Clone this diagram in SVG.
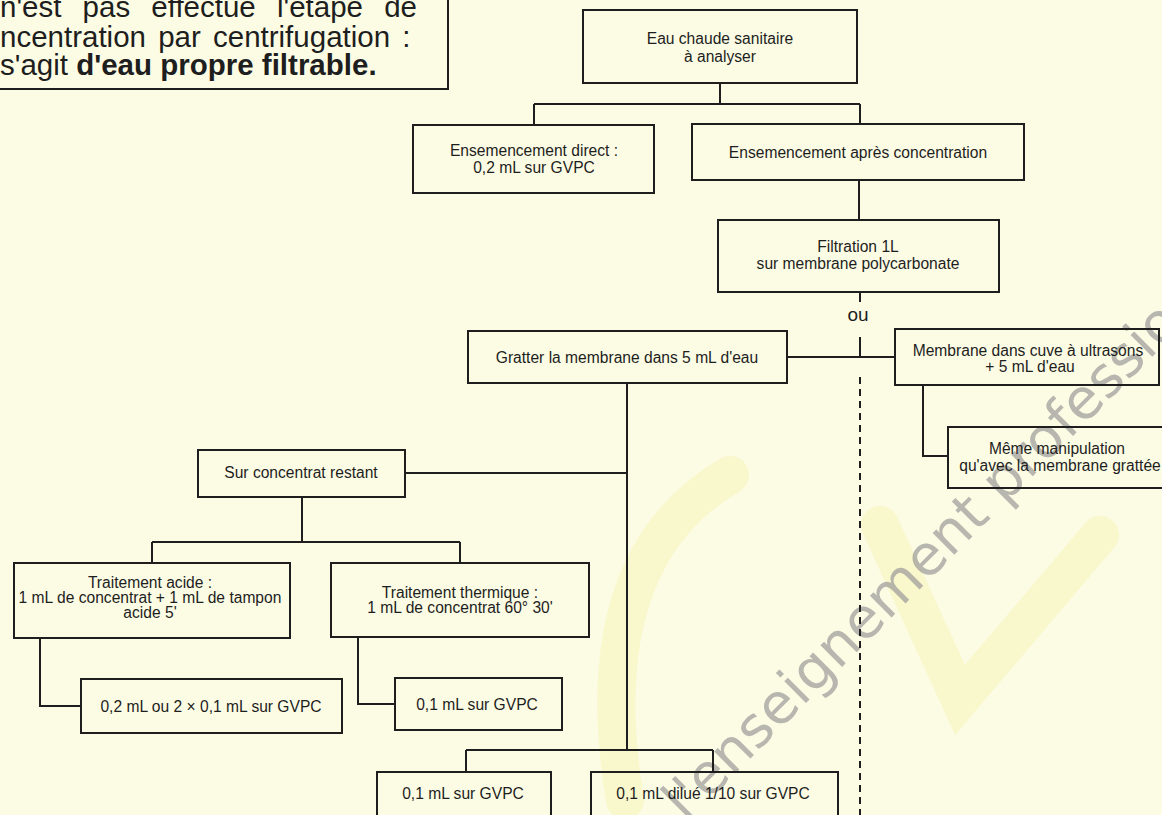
<svg xmlns="http://www.w3.org/2000/svg" width="1162" height="815" viewBox="0 0 1162 815">
<style>
.bg{fill:#fcfce4}
.box{fill:none;stroke:#1e1e1e;stroke-width:2}
.ln{fill:none;stroke:#1e1e1e;stroke-width:2}
.dash{fill:none;stroke:#1e1e1e;stroke-width:2;stroke-dasharray:7 5}
.t{font-family:"Liberation Sans",Arial,sans-serif;font-size:15.6px;fill:#1e1e1e;text-anchor:middle}
.big{font-family:"Liberation Sans",Arial,sans-serif;font-size:29.5px;fill:#1e1e1e}
.ou{font-family:"Liberation Sans",Arial,sans-serif;font-size:19px;fill:#1e1e1e;text-anchor:middle}
.wm{font-family:"DejaVu Sans",sans-serif;font-size:56px;fill:#9a9a9a;opacity:0.7}
.logo{fill:none;stroke:#f3eea0;stroke-width:38;stroke-linecap:round;opacity:0.35}
</style>
<rect class="bg" x="0" y="0" width="1162" height="815"/>
<g id="watermark">
<path class="logo" d="M 730 475 Q 585 560 625 800"/>
<path class="logo" d="M 880 525 L 960 700 L 1100 535"/>
<text class="wm" x="686" y="823" transform="rotate(-45 686 823)">l'enseignement professionnel</text>
</g>
<g id="note">
<rect class="box" x="-5" y="-5" width="453" height="94"/>
<text class="big" x="0" y="17" word-spacing="13">n'est pas effectué l'étape de</text>
<text class="big" x="0" y="47" word-spacing="4">ncentration par centrifugation :</text>
<text class="big" x="0" y="75">s'agit <tspan font-weight="bold">d'eau propre filtrable.</tspan></text>
</g>
<g id="connectors">
<path class="ln" d="M720 83 V104 M534 104 H860 M534 104 V125 M860 104 V124"/>
<path class="ln" d="M859 180 V220"/>
<path class="ln" d="M860 292 V302 M860 337 V357 M787 357 H895"/>
<path class="dash" d="M860 377 V815"/>
<path class="ln" d="M923 385 V456 H948"/>
<path class="ln" d="M627 383 V750 M405 473 H627"/>
<path class="ln" d="M302 497 V542 M152 542 H460 M152 542 V563 M460 542 V563"/>
<path class="ln" d="M40 638 V706 H81"/>
<path class="ln" d="M358 637 V704 H395"/>
<path class="ln" d="M466 750 H713 M466 750 V772 M713 750 V772"/>
</g>
<text class="ou" x="858" y="321">ou</text>
<g id="nA"><rect class="box" x="583" y="10" width="274" height="73"/><text class="t" x="720" y="43.5">Eau chaude sanitaire</text><text class="t" x="720" y="61.5">à analyser</text></g>
<g id="nB"><rect class="box" x="413" y="125" width="241" height="68"/><text class="t" x="534" y="155.5">Ensemencement direct :</text><text class="t" x="534" y="172.5">0,2 mL sur GVPC</text></g>
<g id="nC"><rect class="box" x="692" y="124" width="332" height="56"/><text class="t" x="858" y="157.5">Ensemencement après concentration</text></g>
<g id="nD"><rect class="box" x="718" y="220" width="281" height="72"/><text class="t" x="858" y="252">Filtration 1L</text><text class="t" x="858" y="269">sur membrane polycarbonate</text></g>
<g id="nE"><rect class="box" x="468" y="331" width="319" height="52"/><text class="t" x="627" y="362.5">Gratter la membrane dans 5 mL d'eau</text></g>
<g id="nF"><rect class="box" x="895" y="329" width="264" height="56"/><text class="t" x="1028" y="355.5">Membrane dans cuve à ultrasons</text><text class="t" x="1030" y="371.5">+ 5 mL d'eau</text></g>
<g id="nG"><rect class="box" x="948" y="427" width="222" height="61"/><text class="t" x="1057" y="453.5">Même manipulation</text><text class="t" x="1060" y="470.5">qu'avec la membrane grattée</text></g>
<g id="nH"><rect class="box" x="198" y="450" width="207" height="47"/><text class="t" x="301" y="477.5">Sur concentrat restant</text></g>
<g id="nI"><rect class="box" x="14" y="563" width="276" height="75"/><text class="t" x="150" y="588">Traitement acide :</text><text class="t" x="150" y="603">1 mL de concentrat + 1 mL de tampon</text><text class="t" x="150" y="618">acide 5'</text></g>
<g id="nJ"><rect class="box" x="331" y="563" width="258" height="74"/><text class="t" x="460" y="598">Traitement thermique :</text><text class="t" x="460" y="613">1 mL de concentrat 60° 30'</text></g>
<g id="nK"><rect class="box" x="81" y="679" width="261" height="54"/><text class="t" x="211" y="711.5">0,2 mL ou 2 × 0,1 mL sur GVPC</text></g>
<g id="nL"><rect class="box" x="395" y="678" width="167" height="52"/><text class="t" x="477" y="709.5">0,1 mL sur GVPC</text></g>
<g id="nM"><rect class="box" x="377" y="772" width="174" height="60"/><text class="t" x="463" y="798.5">0,1 mL sur GVPC</text></g>
<g id="nN"><rect class="box" x="591" y="772" width="247" height="60"/><text class="t" x="713" y="798.5">0,1 mL dilué 1/10 sur GVPC</text></g>
</svg>
